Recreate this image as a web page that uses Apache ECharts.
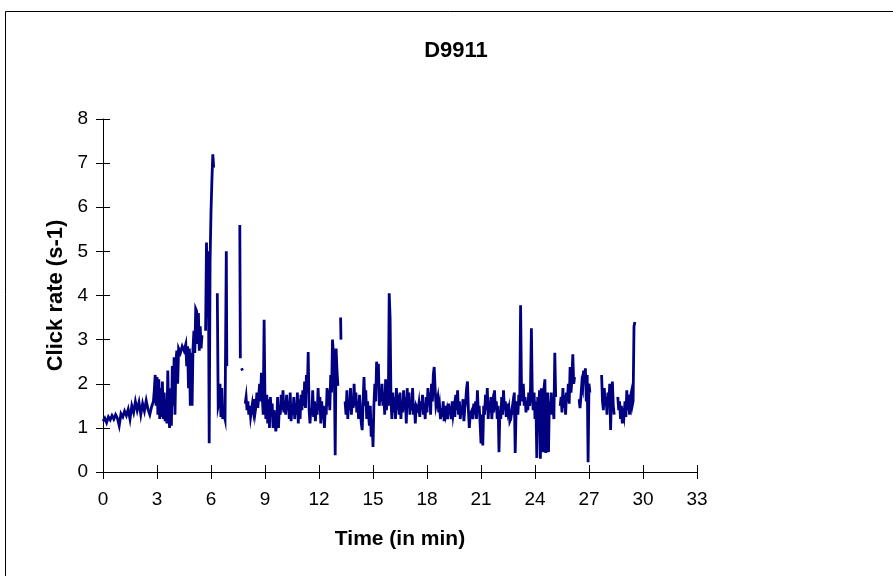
<!DOCTYPE html>
<html>
<head>
<meta charset="utf-8">
<script src="https://cdn.jsdelivr.net/npm/echarts@6/dist/echarts.min.js"></script>
<style>
html,body{margin:0;padding:0;background:#fff;}
#chart{width:893px;height:576px;}
</style>
</head>
<body>
<div id="chart"></div>
<script>
// Chart values (null = gap in the record)
var chartTitle = "D9911";
var xTicks = [0, 3, 6, 9, 12, 15, 18, 21, 24, 27, 30, 33];
var yTicks = [0, 1, 2, 3, 4, 5, 6, 7, 8];

var timeMin = [
0.0,0.1,0.2,0.3,0.4,0.5,0.6,0.7,0.8,0.9,1.0,1.1,1.2,1.3,1.4,1.5,1.6,1.7,1.8,1.9,2.0,2.1,2.2,2.3,2.4,2.5,2.6,2.7,2.8,2.85,2.9,2.95,3.0,3.05,3.1,3.15,3.2,3.25,3.3,3.35,3.4,3.45,3.5,3.55,3.6,3.65,3.7,3.75,3.8,3.85,3.9,3.95,4.0,4.05,4.1,4.15,4.2,4.3,4.4,4.5,4.6,4.65,4.7,4.75,4.8,4.85,4.9,4.95,5.0,5.05,5.1,5.15,5.2,5.25,5.3,5.35,5.4,5.45,5.5,
5.62,
5.7,5.75,5.8,5.85,5.9,5.95,6.0,6.05,6.1,6.15,
6.2,
6.35,6.4,6.45,6.5,6.55,6.6,6.65,6.7,6.78,6.85,6.88,
7.0,
7.6,7.63,
7.66,
7.7,7.75,
7.8,
7.9,7.95,8.0,8.05,8.1,8.15,8.2,8.3,8.35,8.4,8.45,8.5,8.55,8.6,8.7,8.75,8.8,8.85,8.9,8.95,9.0,9.05,9.1,9.15,9.2,9.25,9.3,9.35,9.4,9.45,9.5,9.55,9.6,9.65,
9.7,9.75,9.8,9.85,9.9,9.95,10.0,10.05,10.1,10.15,10.2,10.25,10.3,10.35,10.4,10.45,10.5,10.55,10.6,10.65,10.7,10.75,10.8,10.85,10.9,10.95,11.0,11.05,11.1,11.15,11.2,11.25,11.3,11.35,11.4,11.45,11.5,11.55,11.6,11.65,11.7,11.75,11.8,11.85,11.9,11.95,12.0,12.05,12.1,12.15,12.2,12.25,12.3,12.35,12.4,12.45,12.5,12.55,12.6,12.65,12.7,12.75,12.8,12.85,12.9,12.95,13.0,13.05,
13.1,
13.2,13.22,
13.3,
13.45,13.5,13.55,13.6,13.65,13.7,13.75,13.8,13.85,13.9,13.95,14.0,14.05,14.1,14.15,14.2,14.25,14.3,14.35,14.4,14.45,14.5,14.55,14.6,14.65,14.7,14.75,14.8,14.85,14.9,14.95,15.0,15.05,15.1,15.15,15.2,15.25,15.3,15.35,15.4,15.45,15.5,15.55,15.6,15.65,15.7,15.75,15.8,15.85,15.9,15.95,16.0,16.05,16.1,16.15,16.2,16.25,16.3,16.35,16.4,16.45,16.5,16.55,16.6,16.65,16.7,16.75,16.8,16.85,16.9,16.95,17.0,17.05,17.1,17.15,17.2,17.25,17.3,17.35,17.4,
17.5,17.55,17.6,17.65,17.7,17.75,17.8,17.85,17.9,17.95,18.0,18.05,18.1,18.15,18.2,18.25,18.3,18.35,18.4,18.45,18.5,
18.6,18.65,18.7,18.75,18.8,18.85,18.9,18.95,19.0,19.05,19.1,19.15,19.2,19.25,19.3,19.35,19.4,19.45,19.5,19.55,19.6,19.65,19.7,19.75,19.8,19.85,19.9,19.95,20.0,20.05,20.1,20.15,20.2,20.25,20.3,20.35,20.4,
20.5,20.55,20.6,20.65,20.7,20.75,20.8,20.85,20.9,20.95,21.0,21.05,21.1,21.15,21.2,21.25,21.3,21.35,21.4,21.45,21.5,21.55,21.6,21.65,21.7,21.75,21.8,21.85,21.9,21.95,22.0,22.05,22.1,22.15,22.2,22.25,22.3,22.35,22.4,22.45,22.5,22.55,22.6,22.65,
22.75,22.8,22.85,22.9,22.95,23.0,23.05,23.1,23.15,23.2,23.25,23.3,23.35,23.4,23.45,23.5,23.55,23.6,23.65,23.7,23.75,23.8,23.85,23.9,23.95,24.0,24.05,24.1,24.15,24.2,24.25,24.3,24.35,24.4,24.45,24.5,24.55,24.6,24.65,24.7,24.75,24.8,24.85,24.9,24.95,25.0,25.05,25.1,25.15,
25.25,
25.4,25.45,25.5,25.55,25.6,25.65,25.7,25.75,25.8,25.85,25.9,25.95,26.0,26.05,26.1,26.15,26.2,
26.3,
26.45,26.5,26.55,26.6,26.65,26.7,26.75,26.8,26.85,26.9,26.95,27.0,27.05,
27.2,
27.7,27.75,27.8,27.85,27.9,27.95,28.0,28.05,28.1,28.15,28.2,28.25,28.3,28.35,28.4,
28.5,
28.6,28.65,28.7,28.75,28.8,28.85,28.9,28.95,29.0,29.05,29.1,29.15,29.2,29.25,29.3,29.35,29.4,29.45,29.5,29.55
];

var clickRate = [
1.15,1.22,1.12,1.25,1.18,1.28,1.2,1.3,1.22,1.05,1.32,1.25,1.38,1.28,1.42,1.2,1.5,1.35,1.6,1.4,1.58,1.3,1.55,1.38,1.62,1.42,1.3,1.48,1.6,1.85,2.2,1.5,2.15,1.3,2.1,1.2,1.9,1.25,2.05,1.2,1.8,1.15,1.6,1.1,2.3,1.3,1.0,1.9,1.05,2.4,1.5,2.6,1.3,2.5,2.75,2.0,2.8,2.7,2.85,2.75,2.9,2.4,2.85,1.9,2.8,1.5,2.7,1.5,2.8,3.2,2.7,3.7,3.65,2.9,3.6,2.75,3.3,2.8,3.1,
null,
3.2,5.2,3.5,5.0,0.65,4.8,5.9,6.6,7.2,6.9,
null,
4.05,1.5,1.6,2.0,1.25,1.9,1.2,1.35,1.2,5.0,2.4,
null,
5.6,2.58,
null,
2.35,2.3,
null,
1.55,1.7,1.4,1.6,1.3,1.5,1.25,1.55,1.4,1.65,1.35,1.5,1.8,1.45,2.0,1.6,2.25,1.7,1.3,3.45,1.6,1.2,1.75,1.1,1.65,1.0,1.7,1.3,1.55,1.0,1.4,1.2,0.92,1.1,
1.7,1.0,1.5,1.3,1.75,1.4,1.85,1.35,1.6,1.3,1.75,1.4,1.6,1.2,1.8,1.15,1.5,1.3,1.7,1.2,1.55,1.3,1.8,1.1,1.65,1.2,1.75,1.4,1.85,1.5,2.05,1.45,2.2,1.8,2.72,1.4,1.1,1.45,1.3,1.85,1.25,1.6,1.15,1.55,1.3,1.9,1.4,1.7,1.1,1.6,1.2,1.5,1.0,1.45,1.3,1.9,1.5,1.85,1.4,2.2,1.8,3.0,2.7,2.4,0.38,2.8,2.3,1.95,
null,
3.5,3.0,
null,
1.6,1.3,1.85,1.2,1.65,1.4,1.9,1.3,1.7,1.45,2.0,1.5,1.8,1.35,1.6,1.2,1.75,1.4,1.1,0.95,1.6,2.15,1.5,1.85,1.2,1.6,1.3,1.05,1.5,0.8,1.2,0.57,1.5,2.0,1.6,2.5,2.1,2.45,1.5,1.8,1.6,2.0,1.5,1.8,1.3,2.1,1.4,1.9,1.5,4.05,3.5,1.6,1.2,1.8,1.35,1.7,1.2,1.9,1.4,1.75,1.3,1.8,1.2,1.6,1.35,1.85,1.4,1.7,1.1,1.9,1.45,1.8,1.3,1.6,1.4,1.9,1.3,1.55,1.1,1.5,
1.4,1.55,1.25,1.6,1.4,1.75,1.3,1.55,1.2,1.7,1.35,1.9,1.5,1.8,1.3,2.0,1.6,2.2,2.38,1.9,1.5,
1.7,1.35,1.5,1.2,1.45,1.25,1.6,1.15,1.5,1.3,1.4,1.2,1.55,1.3,1.5,1.2,1.6,1.3,1.45,1.25,1.75,1.4,1.85,1.3,1.6,1.2,1.5,1.3,1.65,1.15,1.45,1.6,1.9,2.05,1.4,1.0,1.3,
1.4,1.2,1.55,1.3,1.6,1.2,1.85,1.35,1.5,1.1,0.65,1.3,0.6,1.5,1.3,1.75,1.4,1.9,1.2,1.6,1.35,1.7,1.2,1.5,1.35,1.85,1.4,1.6,1.2,1.5,0.45,1.4,1.2,1.7,1.3,1.85,1.4,1.6,1.25,1.55,1.35,1.45,1.15,1.2,
1.5,1.3,1.8,0.43,1.4,1.6,1.3,1.75,1.5,3.78,1.9,1.6,2.0,1.5,1.7,1.35,1.6,1.4,1.8,1.5,1.9,3.26,1.7,1.4,1.8,1.2,1.6,0.32,1.7,1.3,1.85,0.3,1.9,1.6,0.45,1.9,2.1,0.43,1.5,1.8,0.45,1.6,1.4,1.8,1.3,1.5,1.2,2.7,1.7,
null,
1.5,1.7,1.35,1.9,1.45,1.75,1.3,1.8,1.6,2.0,1.55,2.38,1.8,2.1,2.67,2.0,2.15,
null,
1.65,1.45,1.7,2.0,1.9,2.3,2.1,2.35,1.6,2.2,0.22,2.0,1.8,
null,
2.2,1.6,1.4,1.9,1.5,1.7,1.3,1.8,1.5,2.0,0.95,1.8,2.05,1.5,1.3,
null,
1.7,1.4,1.6,1.2,1.5,1.1,1.45,1.3,1.6,1.25,1.85,1.4,1.75,1.3,1.7,1.8,1.5,1.6,3.3,3.4
];

var seriesData = timeMin.map(function (t, i) {
  var v = clickRate[i];
  return [t, v === null ? '-' : v];
});

var FONT = "'Liberation Sans', Arial, sans-serif";
var chart = echarts.init(document.getElementById('chart'), null, {renderer: 'canvas'});

var xBase = {
  type: 'value', min: xTicks[0], max: xTicks[xTicks.length - 1], interval: 3,
  splitLine: {show: false}, gridIndex: 0
};
var yBase = {
  type: 'value', min: yTicks[0], max: yTicks[yTicks.length - 1], interval: 1,
  splitLine: {show: false}, gridIndex: 0
};

chart.setOption({
  animation: false,
  backgroundColor: '#ffffff',
  title: {
    text: chartTitle, left: 451, textAlign: 'center', top: 35,
    textStyle: {fontFamily: FONT, fontSize: 22, fontWeight: 'bold', color: '#000'}
  },
  graphic: [{
    type: 'rect', silent: true, z: -1,
    shape: {x: 5.5, y: 11.5, width: 900, height: 600},
    style: {fill: 'none', stroke: '#000', lineWidth: 1}
  }],
  grid: {left: 103, right: 196, top: 119, bottom: 104, containLabel: false},
  xAxis: [
    Object.assign({}, xBase, {
      position: 'bottom',
      name: 'Time (in min)', nameLocation: 'middle', nameGap: 57,
      nameTextStyle: {fontFamily: FONT, fontSize: 21, fontWeight: 'bold', color: '#000'},
      axisLine: {show: true, onZero: false, lineStyle: {color: '#000', width: 1}},
      axisTick: {show: true, inside: false, length: 7, lineStyle: {color: '#000'}},
      axisLabel: {show: true, margin: 18, fontFamily: FONT, fontSize: 19, color: '#000'}
    }),
    Object.assign({}, xBase, {
      position: 'bottom',
      axisLine: {show: false, onZero: false},
      axisTick: {show: true, inside: true, length: 7, lineStyle: {color: '#000'}},
      axisLabel: {show: false}
    })
  ],
  yAxis: [
    Object.assign({}, yBase, {
      position: 'left',
      name: 'Click rate (s-1)', nameLocation: 'middle', nameGap: 36,
      nameTextStyle: {fontFamily: FONT, fontSize: 22, fontWeight: 'bold', color: '#000'},
      axisLine: {show: true, onZero: false, lineStyle: {color: '#000', width: 1}},
      axisTick: {show: true, inside: false, length: 7, lineStyle: {color: '#000'}},
      axisLabel: {show: true, margin: 15, fontFamily: FONT, fontSize: 19, color: '#000'}
    }),
    Object.assign({}, yBase, {
      position: 'left',
      axisLine: {show: false, onZero: false},
      axisTick: {show: true, inside: true, length: 7, lineStyle: {color: '#000'}},
      axisLabel: {show: false}
    })
  ],
  series: [{
    type: 'line',
    xAxisIndex: 0, yAxisIndex: 0,
    data: seriesData,
    showSymbol: false,
    connectNulls: false,
    lineStyle: {color: '#000080', width: 2.8, join: 'miter'},
    itemStyle: {color: '#000080'}
  }]
});
</script>
</body>
</html>
